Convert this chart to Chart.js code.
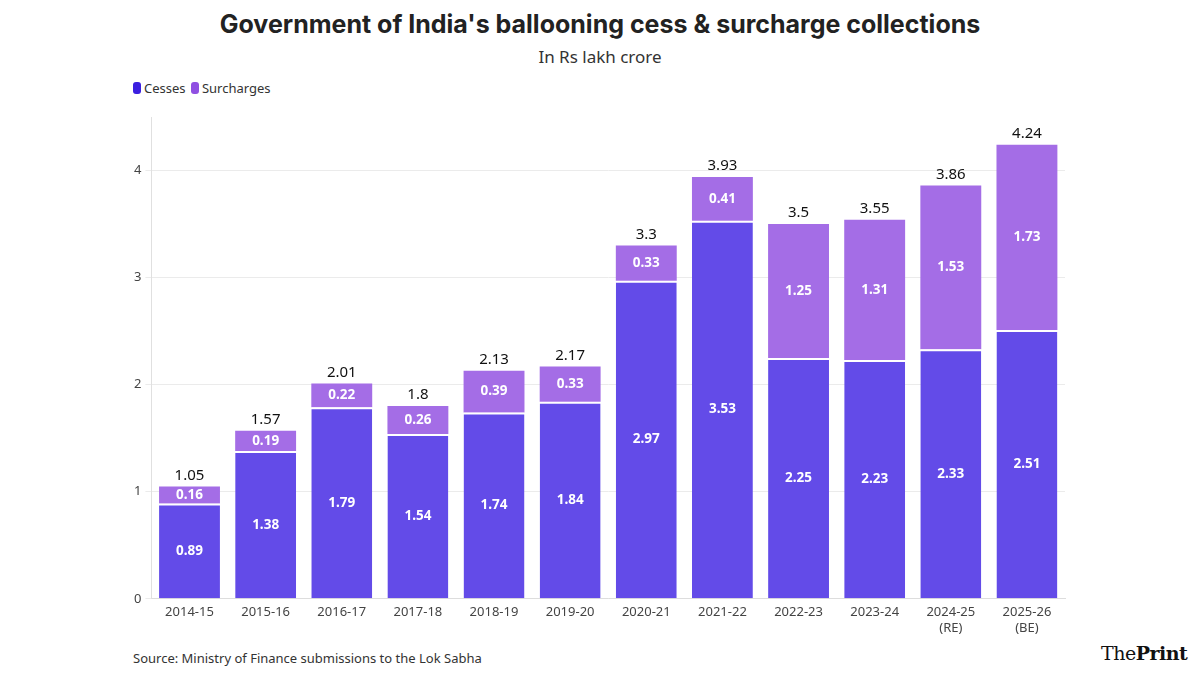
<!DOCTYPE html>
<html>
<head>
<meta charset="utf-8">
<script src="https://cdn.jsdelivr.net/npm/chart.js@4.4.1/dist/chart.umd.min.js"></script>
<style>
  body { margin: 0; background: #fff; font-family: "Noto Sans", sans-serif; }
  #wrap { position: relative; width: 1200px; height: 675px; overflow: hidden; }
  #title { position: absolute; top: 9px; left: 0; width: 1200px; text-align: center;
           font-family: Inter, sans-serif; font-weight: 700; font-size: 25px; color: #222; }
  #sub { position: absolute; top: 45px; left: 0; width: 1200px; text-align: center;
         font-size: 17px; color: #333; }
  #legend { position: absolute; top: 79px; left: 133px; font-size: 13px; color: #333; }
  #legend span.sw { display: inline-block; width: 8px; height: 12px; border-radius: 3px;
                    vertical-align: -1px; margin-right: 3px; }
  #source { position: absolute; top: 649px; left: 133px; font-size: 13px; color: #333; }
  #logo { position: absolute; top: 642px; left: 1101px; font-family: "DejaVu Serif", serif;
          font-size: 19px; color: #111; letter-spacing: -0.5px; }
  #box { position: absolute; left: 130px; top: 105px; width: 945px; height: 537px; }
</style>
</head>
<body>
<div id="wrap">
  <div id="title">Government of India's ballooning cess &amp; surcharge collections</div>
  <div id="sub">In Rs lakh crore</div>
  <div id="legend"><span class="sw" style="background:#3b1fe0"></span>Cesses <span class="sw" style="background:#9050e2;margin-left:2px"></span>Surcharges</div>
  <div id="box"><canvas id="barChart"></canvas></div>
  <div id="source">Source: Ministry of Finance submissions to the Lok Sabha</div>
  <div id="logo">The<b>Print</b></div>
</div>
<script>
var years = ['2014-15', '2015-16', '2016-17', '2017-18', '2018-19', '2019-20',
             '2020-21', '2021-22', '2022-23', '2023-24', ['2024-25', '(RE)'], ['2025-26', '(BE)']];
var cesses = [0.89, 1.38, 1.79, 1.54, 1.74, 1.84, 2.97, 3.53, 2.25, 2.23, 2.33, 2.51];
var surcharges = [0.16, 0.19, 0.22, 0.26, 0.39, 0.33, 0.33, 0.41, 1.25, 1.31, 1.53, 1.73];
var totals = [1.05, 1.57, 2.01, 1.8, 2.13, 2.17, 3.3, 3.93, 3.5, 3.55, 3.86, 4.24];
var yTicks = [0, 1, 2, 3, 4];

// white value labels inside segments, totals on top
var labelPlugin = {
    id: 'labels',
    afterDatasetsDraw: function (chart) {
        var ctx = chart.ctx;
        ctx.save();
        ctx.textAlign = 'center';
        ctx.textBaseline = 'middle';
        chart.data.datasets.forEach(function (ds, i) {
            var meta = chart.getDatasetMeta(i);
            meta.data.forEach(function (bar, j) {
                ctx.fillStyle = '#fff';
                ctx.font = 'bold 13.5px "Noto Sans"';
                ctx.fillText(ds.data[j], bar.x, (bar.y + bar.base) / 2);
                if (i == 1) {
                    ctx.fillStyle = '#111';
                    ctx.font = '15px "Noto Sans"';
                    ctx.fillText(totals[j], bar.x, bar.y - 11);
                }
            });
        });
        ctx.restore();
    }
};

var barChartCanvas = document.getElementById('barChart').getContext('2d');
var barChart = new Chart(barChartCanvas, {
    type: 'bar',
    data: {
        labels: years,
        datasets: [
            {
                label: 'Cesses',
                data: cesses,
                backgroundColor: '#634be8',
                borderColor: '#ffffff',
                borderWidth: { top: 2, left: 0, right: 0, bottom: 0 },
                borderSkipped: false,
                categoryPercentage: 0.8,
                barPercentage: 1
            },
            {
                label: 'Surcharges',
                data: surcharges,
                backgroundColor: '#a46de6',
                borderWidth: 0,
                categoryPercentage: 0.8,
                barPercentage: 1
            }
        ]
    },
    options: {
        responsive: true,
        maintainAspectRatio: false,
        animation: false,
        layout: { padding: { left: 0, right: 10, top: 12, bottom: 0 } },
        plugins: {
            legend: { display: false },
            tooltip: { enabled: false }
        },
        scales: {
            x: {
                stacked: true,
                grid: { display: false, drawTicks: false },
                border: { color: '#dddddd' },
                ticks: { color: '#444', font: { family: 'Noto Sans', size: 13 }, padding: 6, autoSkip: false, maxRotation: 0 }
            },
            y: {
                stacked: true,
                min: 0,
                max: 4.5,
                afterBuildTicks: function (axis) {
                    axis.ticks = yTicks.map(function (v) { return { value: v }; });
                },
                grid: { color: '#ebebeb', tickLength: 6 },
                border: { color: '#e0e0e0' },
                ticks: { color: '#444', font: { family: 'Noto Sans', size: 13 }, padding: 4 }
            }
        }
    },
    plugins: [labelPlugin]
});
</script>
</body>
</html>
